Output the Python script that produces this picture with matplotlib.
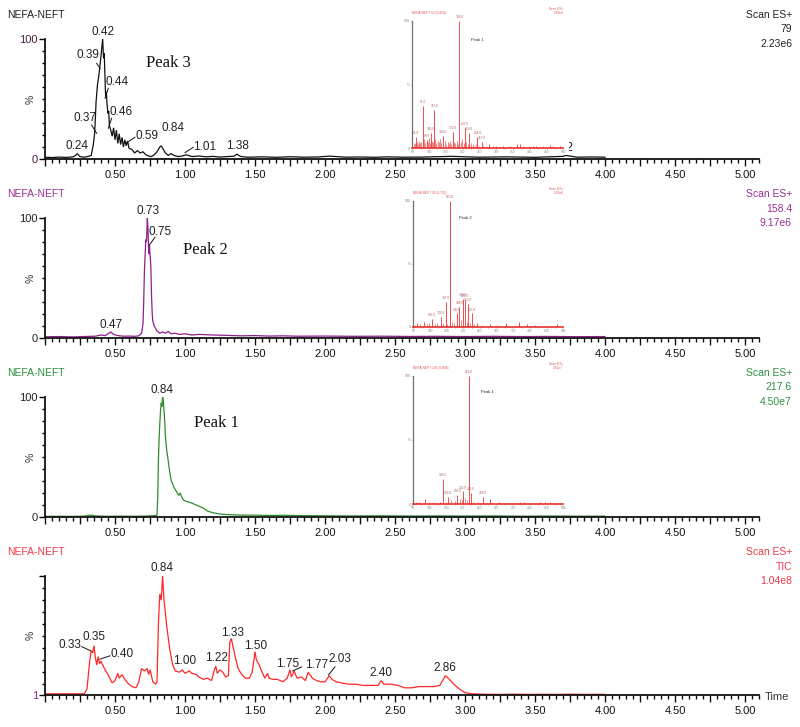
import matplotlib
matplotlib.use('Agg')
import matplotlib.pyplot as plt
from matplotlib.ticker import MultipleLocator, FixedLocator, FuncFormatter
from matplotlib.patches import Rectangle

plt.rcParams['font.family'] = ['Liberation Sans', 'DejaVu Sans']

# ---------------- data ----------------
# Panel 1 : Scan ES+ 79 (Peak 3)
p3_pts = [(0.00, 1.5), (0.05, 1.2), (0.10, 1.6), (0.15, 1.3), (0.20, 1.8), (0.22, 3.0), (0.23, 4.5),
          (0.25, 2.0), (0.28, 1.5), (0.31, 2.2), (0.33, 3.0), (0.345, 12), (0.355, 22), (0.365, 48),
          (0.375, 62), (0.385, 70), (0.395, 80), (0.405, 92), (0.412, 100), (0.418, 84), (0.423, 88),
          (0.428, 70), (0.433, 52), (0.438, 56), (0.443, 46), (0.45, 38), (0.455, 40), (0.46, 28),
          (0.47, 24), (0.48, 19), (0.49, 26), (0.50, 16), (0.51, 24), (0.52, 13), (0.53, 21),
          (0.54, 12), (0.55, 18), (0.56, 10), (0.57, 16), (0.58, 11), (0.59, 15), (0.60, 9),
          (0.62, 8), (0.64, 5), (0.66, 7), (0.68, 5), (0.70, 6), (0.72, 3.5), (0.74, 2.5),
          (0.76, 2.0), (0.78, 3.5), (0.80, 6), (0.82, 10), (0.83, 11), (0.84, 9), (0.86, 5),
          (0.88, 3), (0.90, 4.5), (0.92, 3), (0.95, 2), (0.98, 2.5), (1.01, 3.5), (1.05, 2),
          (1.10, 2.5), (1.15, 1.8), (1.20, 2.2), (1.25, 1.6), (1.30, 2.0), (1.35, 2.3), (1.37, 4.0),
          (1.40, 2.0), (1.45, 1.5), (1.55, 1.8), (1.65, 1.4), (1.75, 1.9), (1.85, 1.5), (1.95, 1.7),
          (2.03, 2.4), (2.15, 1.5), (2.25, 1.7), (2.35, 1.4), (2.45, 1.8), (2.55, 1.5), (2.70, 1.6),
          (2.90, 2.2), (3.10, 1.5), (3.30, 1.8), (3.50, 1.4), (3.70, 2.2), (3.72, 3.0), (3.80, 1.5),
          (3.90, 1.7), (4.00, 1.5)]

# Panel 2 : Scan ES+ 158.4 (Peak 2)
p2_pts = [(0.00, 1.0), (0.10, 1.2), (0.20, 0.9), (0.30, 1.3), (0.36, 1.5), (0.40, 2.5), (0.43, 2.0),
          (0.45, 3.5), (0.47, 5.0), (0.49, 3.0), (0.52, 2.0), (0.56, 1.5), (0.60, 1.6), (0.64, 1.4),
          (0.67, 1.8), (0.69, 4), (0.70, 12), (0.705, 30), (0.71, 55), (0.72, 82), (0.725, 80),
          (0.731, 100), (0.736, 90), (0.741, 70), (0.746, 78), (0.751, 68), (0.756, 60), (0.761, 35),
          (0.766, 20), (0.77, 14), (0.78, 10), (0.79, 8), (0.80, 6), (0.82, 4), (0.84, 5), (0.86, 4),
          (0.88, 5.5), (0.90, 3.5), (0.93, 4), (0.96, 3), (1.00, 3.5), (1.05, 2.5), (1.10, 3),
          (1.20, 2.5), (1.30, 2.2), (1.40, 1.8), (1.50, 2.0), (1.60, 1.6), (1.70, 1.8), (1.80, 1.5),
          (2.00, 1.6), (2.20, 1.4), (2.40, 1.5), (2.60, 1.3), (2.80, 1.4), (3.00, 1.2), (3.20, 1.4),
          (3.40, 1.2), (3.60, 1.3), (3.80, 1.1), (4.00, 1.2)]

# Panel 3 : Scan ES+ 217.6 (Peak 1)
p1_pts = [(0.00, 0.5), (0.10, 0.6), (0.20, 0.5), (0.28, 0.7), (0.31, 1.3), (0.33, 1.5), (0.36, 0.9),
          (0.45, 0.6), (0.55, 0.7), (0.65, 0.6), (0.72, 0.8), (0.76, 1.0), (0.79, 1.2), (0.80, 1.5),
          (0.805, 15), (0.81, 47), (0.815, 65), (0.82, 78), (0.825, 88), (0.83, 95), (0.835, 92),
          (0.84, 100), (0.845, 97), (0.85, 89), (0.855, 80), (0.86, 67), (0.87, 55), (0.88, 47),
          (0.89, 38), (0.90, 31), (0.92, 25), (0.94, 21), (0.955, 18), (0.965, 20), (0.975, 17),
          (0.99, 14), (1.01, 13), (1.04, 12), (1.07, 10.5), (1.10, 9), (1.13, 7.5), (1.16, 5),
          (1.20, 3.5), (1.25, 2.5), (1.30, 2.0), (1.35, 1.8), (1.40, 1.6), (1.50, 1.5), (1.60, 1.3),
          (1.70, 1.4), (1.80, 1.2), (1.90, 1.1), (2.00, 1.0), (2.20, 0.9), (2.40, 1.0), (2.60, 0.8),
          (2.80, 0.9), (3.00, 0.8), (3.20, 0.9), (3.40, 0.7), (3.60, 0.8), (3.80, 0.7), (4.00, 0.7)]

# Panel 4 : Scan ES+ TIC
tic_pts = [(0.00, 2), (0.10, 2), (0.20, 2), (0.28, 2), (0.30, 6), (0.31, 18), (0.32, 30), (0.33, 38),
           (0.34, 36), (0.35, 42), (0.36, 32), (0.37, 26), (0.38, 33), (0.39, 27), (0.40, 29),
           (0.42, 24), (0.45, 18), (0.48, 11), (0.50, 13), (0.52, 19), (0.53, 15), (0.55, 18),
           (0.57, 14), (0.59, 11), (0.62, 8), (0.65, 7), (0.67, 12), (0.69, 23), (0.71, 21),
           (0.73, 23), (0.74, 18), (0.75, 22), (0.77, 12), (0.79, 10), (0.80, 12), (0.81, 60),
           (0.82, 85), (0.83, 80), (0.84, 100), (0.85, 80), (0.87, 58), (0.89, 40), (0.91, 27),
           (0.93, 21), (0.96, 20), (0.98, 22), (1.00, 19), (1.03, 21), (1.05, 19), (1.08, 18),
           (1.10, 16), (1.13, 14), (1.16, 15), (1.19, 13), (1.21, 22), (1.22, 25), (1.23, 19),
           (1.25, 22), (1.27, 20), (1.29, 16), (1.31, 17), (1.32, 45), (1.33, 48), (1.34, 43),
           (1.36, 32), (1.38, 23), (1.40, 19), (1.43, 15), (1.46, 15), (1.48, 20), (1.50, 37),
           (1.51, 30), (1.53, 26), (1.55, 20), (1.57, 15), (1.59, 19), (1.60, 15), (1.63, 14),
           (1.66, 14), (1.70, 12), (1.73, 15), (1.75, 22), (1.76, 16), (1.78, 21), (1.80, 15),
           (1.83, 16), (1.86, 13), (1.88, 20), (1.91, 15), (1.94, 13), (1.97, 12), (2.00, 12),
           (2.03, 17), (2.05, 14), (2.08, 12), (2.12, 11), (2.17, 10), (2.22, 10), (2.27, 9),
           (2.32, 9), (2.38, 9), (2.40, 13), (2.42, 10), (2.47, 10), (2.52, 9), (2.57, 7),
           (2.62, 7), (2.67, 8), (2.72, 8), (2.78, 8), (2.82, 9), (2.84, 13), (2.86, 17),
           (2.88, 15), (2.92, 10), (2.96, 6), (3.00, 3), (3.05, 2), (3.15, 1.6), (3.25, 1.5),
           (3.35, 1.7), (3.45, 1.5), (3.55, 1.6), (3.65, 1.5), (3.75, 1.7), (3.85, 1.5),
           (3.95, 1.6), (4.00, 1.5)]

# peak labels: (text, x, y) ; leader lines ((x1,y1),(x2,y2))
p3_labels = [('0.42', 0.412, 106), ('0.39', 0.307, 86.7), ('0.44', 0.512, 63.9), ('0.37', 0.286, 34.2),
             ('0.46', 0.541, 38.9), ('0.59', 0.726, 19.2), ('0.84', 0.912, 25.6), ('0.24', 0.231, 11.1),
             ('1.01', 1.143, 10.3), ('1.38', 1.374, 11.1), ('3.72', 3.69, 9.2)]
p3_leaders = [((0.369, 79.7), (0.393, 75.6)), ((0.333, 28.3), (0.369, 21.4)),
              ((0.452, 58.9), (0.429, 50.6)), ((0.476, 33.9), (0.452, 25.6)),
              ((0.643, 18.1), (0.583, 13.6)), ((1.059, 9.7), (1.0, 5.3))]
p2_labels = [('0.73', 0.738, 106.1), ('0.75', 0.821, 88.6), ('0.47', 0.469, 10.8)]
p2_leaders = [((0.786, 83.9), (0.745, 77.5))]
p1_labels = [('0.84', 0.838, 105.8)]
p1_leaders = []
tic_labels = [('0.84', 0.838, 106.5), ('0.33', 0.179, 42.9), ('0.35', 0.35, 49.0), ('0.40', 0.548, 35.5),
              ('1.00', 1.0, 29.4), ('1.22', 1.226, 31.7), ('1.33', 1.338, 52.4), ('1.50', 1.505, 42.0),
              ('1.75', 1.731, 26.6), ('1.77', 1.94, 25.8), ('2.03', 2.107, 30.8), ('2.40', 2.398, 19.1),
              ('2.86', 2.857, 23.8)]
tic_leaders = [((0.262, 41.2), (0.326, 37.8)), ((0.464, 33.6), (0.393, 30.8)),
               ((1.769, 21.0), (1.834, 24.4)), ((2.071, 24.4), (2.024, 17.6))]

# inset mass spectra
specA_mz = [61, 81, 93, 105, 115.6, 142, 170, 190, 207, 219, 244, 257, 279, 320, 362, 372, 398, 410, 420, 460, 490]
specA_int = [9, 33, 6.5, 12, 30, 10, 13, 100, 16, 12, 9, 5, 3, 2, 3, 3, 2, 2, 2, 2.5, 1.5]
grassA_mz = [55, 58, 64, 67, 70, 73, 77, 85, 88, 96, 99, 102, 108, 111, 119, 122, 126, 130, 134, 137,
             146, 150, 155, 158, 163, 166, 174, 178, 183, 186, 195, 199, 203, 211, 215, 226, 230, 235,
             240, 250, 262, 270, 290, 300, 340, 380, 440, 470]
grassA_int = [3, 4, 5, 3, 6, 4, 5, 7, 4, 5, 8, 4, 6, 5, 7, 4, 6, 5, 7, 4, 6, 3, 5, 4, 6, 3, 5, 4, 6, 3,
              5, 7, 4, 5, 3, 4, 3, 2, 3, 2, 2, 2, 1.5, 2, 1.5, 1.5, 1.5, 1.5]
specB_mz = [62, 82, 105, 132, 147, 160, 180, 188, 198, 205, 215, 225, 242, 280, 328, 368, 390, 415, 480, 500]
specB_int = [2.6, 4, 6.5, 8, 20, 100, 10.5, 16, 22, 21, 18, 10.5, 3, 2, 2.6, 3.5, 2, 1.5, 2, 3]
grassB_mz = [56, 70, 90, 98, 115, 122, 140, 152, 167, 172, 192, 210, 220, 232, 255, 300]
grassB_int = [1.5, 2, 2, 3, 2.5, 3, 3, 2.5, 4, 3, 5, 4, 3, 2, 1.5, 1.5]
specC_mz = [60, 88, 132, 140.5, 156, 183, 201, 219, 223, 259, 281, 309, 329, 370, 382, 430, 445, 460, 499]
specC_int = [2, 4, 2, 20, 6, 7, 10, 100, 8.5, 6, 4, 2, 1.3, 1.5, 2, 2, 1.5, 1.5, 3]
grassC_mz = [70, 100, 112, 150, 165, 175, 190, 196, 207, 212, 230, 245]
grassC_int = [1.5, 1.5, 2, 2, 3, 2.5, 4, 3, 5, 3, 2, 1.5]

W, H = 800, 727
fig = plt.figure(figsize=(8, 7.27), dpi=100)
fig.patch.set_facecolor('white')


def fx(px):
    return px / W


def fy(py):
    return 1 - py / H


def xfmt(v, pos):
    k = v / 0.5
    if v > 0.01 and abs(k - round(k)) < 1e-6:
        return f'{v:.2f}'
    return ''


panels = [
    dict(top=39, bot=159, pts=p3_pts, color='#111111', tcolor='#222222',
         right=['Scan ES+', '79', '2.23e6'], labels=p3_labels, leaders=p3_leaders,
         peak=('Peak 3', 0.881, 79.7), ymin=0, ylab=('0', '100'), ylabc='#4a1e44'),
    dict(top=218, bot=338, pts=p2_pts, color='#8E1E8C', tcolor='#9A2E94',
         right=['Scan ES+', '158.4', '9.17e6'], labels=p2_labels, leaders=p2_leaders,
         peak=('Peak 2', 1.143, 73.3), ymin=0, ylab=('0', '100'), ylabc='#222222'),
    dict(top=397, bot=517, pts=p1_pts, color='#2E8B2E', tcolor='#2E9040',
         right=['Scan ES+', '217.6', '4.50e7'], labels=p1_labels, leaders=p1_leaders,
         peak=('Peak 1', 1.221, 78.1), ymin=0, ylab=('0', '100'), ylabc='#222222'),
    dict(top=576, bot=695, pts=tic_pts, color='#FF2828', tcolor='#F03848',
         right=['Scan ES+', 'TIC', '1.04e8'], labels=tic_labels, leaders=tic_leaders,
         peak=None, ymin=1, ylab=('1', ''), ylabc='#7B2D8E'),
]

for p in panels:
    top, bot = p['top'], p['bot']
    ax = fig.add_axes([fx(45), fy(bot), 714 / W, (bot - top) / H], zorder=0)
    ax.set_xlim(0, 5.1)
    ax.set_ylim(p['ymin'], 100)
    xs = [a for a, b in p['pts']]
    ys = [b for a, b in p['pts']]
    ax.plot(xs, ys, color=p['color'], lw=0.9, solid_joinstyle='miter')
    for s in ('top', 'right'):
        ax.spines[s].set_visible(False)
    for s in ('left', 'bottom'):
        ax.spines[s].set_linewidth(1.3)
        ax.spines[s].set_color('#111111')
    ax.xaxis.set_major_locator(MultipleLocator(0.25))
    ax.xaxis.set_minor_locator(MultipleLocator(0.05))
    ax.xaxis.set_major_formatter(FuncFormatter(xfmt))
    ax.tick_params(axis='x', which='major', length=5, width=1, pad=3, labelsize=8, colors='#111111')
    ax.tick_params(axis='x', which='minor', length=2.8, width=1, colors='#111111')
    ax.yaxis.set_major_locator(FixedLocator([p['ymin'], 100]))
    ax.yaxis.set_minor_locator(FixedLocator([10, 20, 30, 40, 50, 60, 70, 80, 90]))
    ax.set_yticklabels(list(p['ylab']))
    ax.tick_params(axis='y', which='major', length=4, width=1, pad=1, labelsize=8)
    ax.tick_params(axis='y', which='minor', length=2.2, width=1)
    for t in ax.get_yticklabels():
        t.set_color(p['ylabc'])
    ax.text(-0.1, 50 + p['ymin'] / 2, '%', rotation=90, fontsize=7.5, ha='center', va='center',
            color='#333333')
    for txt, x, y in p['labels']:
        ax.text(x, y, txt, fontsize=8.5, ha='center', va='center', color='#222222')
    for (a, b) in p['leaders']:
        ax.plot([a[0], b[0]], [a[1], b[1]], color='#111111', lw=0.7, clip_on=False)
    if p['peak']:
        t, x, y = p['peak']
        ax.text(x, y, t, fontsize=12, family='Liberation Serif', ha='center', va='center',
                color='#111111')
    fig.text(fx(7), fy(top - 24), 'NEFA-NEFT', fontsize=7.5, color=p['tcolor'], ha='left', va='center')
    for k, line in enumerate(p['right']):
        fig.text(fx(792), fy(top - 24 + 14.5 * k), line, fontsize=7.5, color=p['tcolor'],
                 ha='right', va='center')

fig.text(fx(765), fy(697), 'Time', fontsize=8, color='#333333', ha='left', va='center')


def add_spectrum(l, t, r, b, mz, inten, gmz, gint, peak_txt, peak_xy, head_l, head_r):
    fig.add_artist(Rectangle((fx(l - 8), fy(b + 7)), (r - l + 14) / W, (b - t + 18) / H,
                             transform=fig.transFigure, facecolor='white', edgecolor='none', zorder=1))
    ax = fig.add_axes([fx(l), fy(b), (r - l) / W, (b - t) / H], zorder=2)
    ax.patch.set_alpha(0)
    ax.set_xlim(50, 500)
    ax.set_ylim(0, 100)
    ax.vlines(gmz, 0, gint, color='#F05050', lw=0.5)
    ax.vlines(mz, 0, inten, color='#F03030', lw=0.6)
    for m, i in zip(mz, inten):
        if i >= 5:
            ax.text(m, i + 1.5, f'{m:.1f}', fontsize=2.3, color='#B06060', ha='center', va='bottom')
    for s in ('top', 'right'):
        ax.spines[s].set_visible(False)
    ax.spines['left'].set_color('#707070')
    ax.spines['left'].set_linewidth(0.9)
    ax.spines['bottom'].set_color('#E83030')
    ax.spines['bottom'].set_linewidth(1.2)
    ax.xaxis.set_major_locator(MultipleLocator(50))
    ax.xaxis.set_minor_locator(MultipleLocator(25))
    ax.tick_params(axis='x', which='both', length=1, width=0.4, pad=0.5, labelsize=2.3, colors='#808080')
    ax.yaxis.set_major_locator(FixedLocator([0, 50, 100]))
    ax.set_yticklabels(['0', '%', '100'])
    ax.tick_params(axis='y', length=1, width=0.4, pad=0.5, labelsize=2.5, colors='#808080')
    ax.text(peak_xy[0], peak_xy[1], peak_txt, fontsize=3, color='#222222', ha='center', va='center')
    ax.text(0.0, 1.05, head_l, transform=ax.transAxes, fontsize=2.3, color='#E05050', ha='left')
    ax.text(1.0, 1.05, head_r, transform=ax.transAxes, fontsize=2.3, color='#E05050', ha='right')


add_spectrum(412.3, 20.7, 563.3, 148.3, specA_mz, specA_int, grassA_mz, grassA_int,
             'Peak 1', (245, 85), 'NEFA-NEFT 53 (0.420)', 'Scan ES+\n2.18e6')
add_spectrum(413.3, 200.7, 563.3, 326.7, specB_mz, specB_int, grassB_mz, grassB_int,
             'Peak 2', (205, 86), 'NEFA-NEFT 92 (0.731)', 'Scan ES+\n1.33e6')
add_spectrum(412.7, 375.7, 563.3, 504.3, specC_mz, specC_int, grassC_mz, grassC_int,
             'Peak 1', (272, 87), 'NEFA-NEFT 105 (0.838)', 'Scan ES+\n4.52e7')

fig.savefig('out.png', dpi=100, facecolor='white')
